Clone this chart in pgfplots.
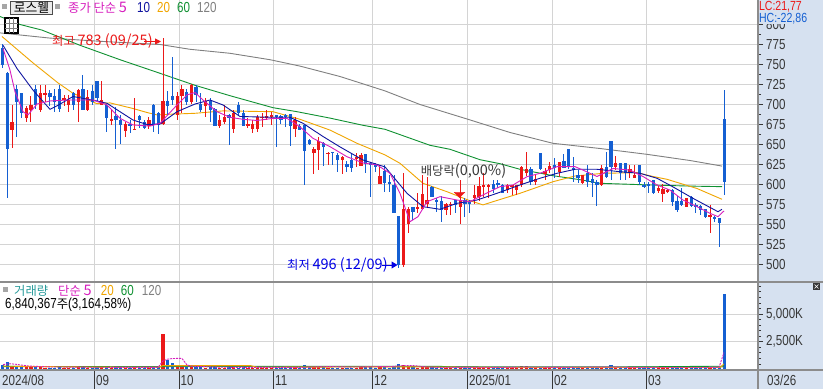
\documentclass[border=0pt]{standalone}
\usepackage{pgfplots}
\pgfplotsset{compat=1.18}
\usepackage{pgfplotstable}
\usetikzlibrary{arrows.meta}
\usepackage{fontspec}
\setmainfont{Liberation Sans}[FakeStretch=0.8]
\newfontfamily\krfont{Noto Sans CJK KR}
\newcommand{\lt}{\fontsize{14.5}{15}\selectfont}
\newcommand{\ls}{\fontsize{13.2}{13.5}\selectfont}
\newcommand{\kt}{\krfont\fontsize{12.3}{13}\selectfont}
\definecolor{cR}{RGB}{235,25,25}
\definecolor{cB}{RGB}{20,95,210}
\definecolor{cM}{RGB}{215,30,190}
\definecolor{cN}{RGB}{15,20,160}
\definecolor{cO}{RGB}{240,165,0}
\definecolor{cG}{RGB}{16,145,50}
\definecolor{cY}{RGB}{128,128,128}
\definecolor{cT}{RGB}{40,155,155}
\definecolor{panel}{RGB}{214,225,240}
\definecolor{gridc}{RGB}{212,212,212}
\definecolor{axc}{RGB}{140,140,140}
\definecolor{txt}{RGB}{55,55,55}

\pgfplotstableread{
k o c h l v
2 668 678 699 645 300
5 683 695 698 678 220
6 693 699 710 678 200
8 693 714 724 691 260
9 712 714 724 703 160
13 705 708 712 698 140
14 699 705 712 691 150
16 703 718 720 678 230
18 693 710 718 692 180
21 699 705 729 699 200
23 679 682 693 674 130
26 667 676 678 660 170
28 668 670 708 668 210
31 673 680 685 670 150
34 676 704 783 675 3195
37 687 711 716 680 380
38 710 719 724 689 300
40 703 724 726 701 280
43 698 704 708 684 180
46 673 680 687 670 150
47 678 684 699 676 170
49 669 690 693 664 220
52 673 675 683 670 120
53 669 675 681 664 130
54 669 685 687 666 180
55 683 685 689 672 110
56 683 685.5 693 680 120
57 684 687 691 674 130
62 669 680 684 659 200
66 640 645 647 613 330
67 643 654 660 618 280
69 638 640 641 624 150
72 631 634 635 613 170
75 632.5 634.5 639 622 130
76 623 637 639 623 200
80 601 610 624 601 220
85 499 569 614 497 420
86 551 569 572 539 300
88 570 572 589 564 160
89 569 588 612 568 250
90 575 580 610 572 200
94 568 576 577 562 140
95 574 576 578 562 120
97 572 580.5 606 551 180
100 582.6 586.75 599 576 170
101 585 598 610 580 230
102 597 599.3 614 585 190
103 597.5 599.5 601 582.6 130
107 593 599 600 589 140
108 597 599 599.5 587 120
109 593 599 600 587 130
110 599 622 623 597 280
111 614 620 640 610 300
113 603.5 606.75 612 599 150
115 613 617 620 605.5 140
116 618 623 628 614 160
118 616 627.6 628.4 609.7 190
123 601.3 611.75 612 600.5 170
127 599.25 621 624 598 250
130 622 627 635 618 180
133 614 619 624 607.6 150
134 608.4 611.75 624 607.6 140
139 592 596 599 589 130
140 588 595 600.5 578.4 160
141 591 593 593.8 588.8 110
145 572.2 582.6 583 572 150
150 558.8 561.75 574.25 538.8 200
}\upc

\pgfplotstableread{
k o c h l v
0 771 749 775 745 450
1 740 645 741 583 700
3 719 703 724 660 280
4 714 689 715 683 230
7 719 699 724 695 200
10 714 710 718 698 150
11 710 703 719 691 160
12 719 695 724 691 190
15 714 699 716 693 170
17 719 693 737 693 250
19 717 703 724 699 180
20 729 708 730 703 210
22 699 683 701 665 230
24 685 681 697 644 260
25 681 674 687 651 190
27 676 673 680 664 140
29 685 681 687 670 150
30 678 670 680 669 160
32 699 674 700 665 200
33 689 674 690 663 190
35 704 698 717 687 900
36 710 706 760 699 600
39 715 703 720 699 260
41 722 712 724 703 240
42 701 693 714 691 210
44 704 693 708 678 190
45 695 673 696 673 230
48 687 683 688 649 200
50 699 689 703 687 160
51 689 673 693 673 190
58 686.5 684.5 687 647 180
59 685 680 687 676 120
60 687 684 688 672 130
61 688 673 688 648 240
63 673 668 675 668 150
64 674 642 674 599 380
65 656 650 657 649 200
68 652 647 653 623 190
70 641 639 641 624 110
71 637 630 639 615 160
73 625.5 622 630 616 140
74 631 621 639 616 170
77 638 625 638 614 200
78 627 625 627 585 260
79 625.5 622 627 616 150
81 617 601.5 624 591 220
82 603.5 600.6 612 590 180
83 599 565 612 564 330
84 560 499 560 496 480
87 572 566 572 556 210
91 597 585 598 584 200
92 580.5 578.5 583 566 130
93 580 568 585 553 180
96 580 574 581 564 140
98 580.5 576 583 560 160
99 578.5 576.3 580.5 564 120
104 601 595 605.5 589 170
105 602 599 606 595 130
106 599 589 601 589 150
112 619 603 622 599 210
114 639 619 639.5 618 260
117 624 620 632.6 607.6 180
119 629 621 638 620.9 170
120 644.7 622.2 645 620 240
121 621 618 635 603 190
122 612 607.6 618 602 150
124 614 603.4 624 597 170
125 606.3 601.3 614 585 180
126 603.4 599.25 605.5 573.4 200
128 621.3 609.7 640 607.6 190
129 654 622 654.5 605.5 380
131 627 614 627.5 605.5 200
132 627 614 627.5 605.5 170
135 624 602.6 624.5 599 230
136 599.5 598 603.4 595 120
137 600 598 603.4 589 140
138 605.5 589 606 588 190
142 593 578.4 594 573 210
143 579.7 568 585.5 566 230
144 579.7 574.25 595 573 180
146 584.7 573.4 586 572 170
147 574.25 572.2 576.3 563.8 150
148 573 568 574.25 561.75 160
149 568.8 558.8 569 558.5 200
151 559 557 560.5 552.6 190
152 558.4 552.2 558.5 522 216
153 681.75 603.4 718 586.75 6840
}\dnc

\pgfplotsset{
  wick/.style={draw=none, mark=none, forget plot,
    error bars/.cd, y dir=both, y explicit, error mark=none,
    error bar style={draw=#1, line width=1pt}},
  body/.style={draw=none, mark=none, forget plot,
    error bars/.cd, y dir=both, y explicit, error mark=none,
    error bar style={draw=#1, line width=3.3pt}},
}

\begin{document}
\begin{tikzpicture}[x=1pt,y=1pt]
\path[use as bounding box] (0,0) rectangle (823,389);
\clip (0,0) rectangle (823,389);
\fill[white] (0,0) rectangle (823,389);
\fill[panel] (758,0) rectangle (823,389);
\fill[panel] (0,0) rectangle (823,19);

% ---------------- price panel ----------------
\begin{axis}[
  at={(0pt,107pt)}, anchor=south west, scale only axis,
  width=758pt, height=282pt,
  xmin=0, xmax=758, ymin=478.125, ymax=830.625,
  axis line style={draw=none},
  xtick={94.7,179.3,273.3,372.7,467.7,552.7,646.7}, xticklabels={},
  xtick style={draw=none},
  ytick={500,525,...,800}, minor y tick num=1,
  ytick pos=right, yticklabel pos=right,
  tick align=outside, major tick length=5pt, minor tick length=3pt,
  ytick style={draw=txt, line width=0.9pt},
  minor y tick style={draw=txt, line width=0.9pt},
  xmajorgrids, ymajorgrids, grid style={draw=gridc, line width=1pt},
  yticklabel style={font=\lt, text=txt, anchor=west, inner sep=0pt, xshift=3pt},
  /pgf/number format/assume math mode=true,
  /pgf/number format/1000 sep={},
]
\addplot[cY, line width=0.9pt, mark=none] coordinates {(0,789.5)(50,783)(100,779)(160,775)(190,769)(230,764)(270,756)(300,748)(340,735)(385,717)(420,700)(468,681.5)(510,665)(553,651.5)(600,645)(647,637.7)(690,630)(722,623)};
\addplot[cG, line width=0.9pt, mark=none] coordinates {(0,810)(20,800)(42,793)(80,774)(120,756)(160,739)(195,724)(230,711)(273,696)(297,691)(330,683)(363,674)(385,669)(430,649)(450,644)(480,631)(500,626)(520,619)(553,611)(580,606)(600,601.5)(650,599.4)(690,598)(722,597.3)};
\addplot[cO, line width=0.9pt, mark=none] coordinates {(2,785)(33,752)(58,727)(73,714)(97,701)(110,702)(133,695)(147,690)(157,687)(173,688)(195,689)(223,692)(273,691)(300,681.5)(330,668)(357,651.5)(385,637)(400,626.5)(423,601.5)(447,591)(468,580.6)(483,574.5)(493,578.5)(520,589)(553,603.5)(575,610.6)(603,614)(637,614.8)(653,610)(667,606.5)(697,595)(722,581.5)};

\addplot[wick=cR] table[x expr=2.7+4.716*\thisrow{k}, y expr=(\thisrow{h}+\thisrow{l})/2, y error expr=(\thisrow{h}-\thisrow{l})/2]{\upc};
\addplot[wick=cB] table[x expr=2.7+4.716*\thisrow{k}, y expr=(\thisrow{h}+\thisrow{l})/2, y error expr=(\thisrow{h}-\thisrow{l})/2]{\dnc};
\addplot[body=cR] table[x expr=2.7+4.716*\thisrow{k}, y expr=(\thisrow{o}+\thisrow{c})/2, y error expr={max(abs(\thisrow{c}-\thisrow{o})/2,0.8)}]{\upc};
\addplot[body=cB] table[x expr=2.7+4.716*\thisrow{k}, y expr=(\thisrow{o}+\thisrow{c})/2, y error expr={max(abs(\thisrow{c}-\thisrow{o})/2,0.8)}]{\dnc};

\addplot[cN, line width=0.9pt, mark=none] coordinates {(3,774)(17,745)(33,718)(50,694)(58,699)(73,710)(97,704.4)(107,701.5)(120,691)(133,680.6)(147,675)(160,675.6)(177,691)(195,700.6)(210,705.6)(223,699.4)(240,685)(273,684)(290,684)(303,676.5)(323,660)(340,647)(363,630.6)(385,622)(393,610)(407,589)(423,572.3)(440,569)(457,576.5)(477,580.6)(497,589)(520,599.4)(540,607.8)(557,614)(575,619)(597,619)(620,616)(640,614)(657,607.8)(673,597)(693,582.7)(718,566)(722,569)};
\addplot[cM, line width=0.9pt, mark=none] coordinates {(3,770)(10,743)(15,716)(23,691)(28,687)(37,700.6)(50,704.4)(67,705.6)(93,705.6)(107,699.4)(120,682.7)(133,674.4)(150,673)(160,676.5)(177,699.4)(187,712)(195,715)(203,705.6)(217,691)(230,684)(243,681.5)(257,680)(273,682.7)(287,682.7)(300,672)(313,657.7)(330,647.3)(347,634.7)(363,627)(377,624.4)(390,614)(400,589)(410,553.5)(418,559.8)(427,578.5)(440,584.8)(457,580.6)(470,578.5)(483,587)(500,597.3)(513,599.4)(527,609.8)(540,614)(557,622.3)(575,622.3)(583,618)(597,610)(613,620)(630,618)(643,610)(657,599.4)(670,593)(683,580.6)(697,572.3)(710,564)(718,559.8)(724,567)};

\addplot[only marks, mark=triangle*, mark size=6pt, mark options={rotate=180, yscale=0.6, fill=cR, draw=cR}] coordinates {(459.5,588)};
\end{axis}

% ---------------- volume panel ----------------
\begin{axis}[
  at={(0pt,19.5pt)}, anchor=south west, scale only axis,
  width=758pt, height=86.5pt,
  xmin=0, xmax=758, ymin=0, ymax=7807,
  axis line style={draw=none},
  xtick={94.7,179.3,273.3,372.7,467.7,552.7,646.7}, xticklabels={},
  xtick style={draw=none},
  ytick={2500,5000}, yticklabels={{2,500K},{5,000K}},
  minor ytick={500,1000,...,7500},
  ytick pos=right, yticklabel pos=right,
  tick align=outside, major tick length=5pt, minor tick length=3pt,
  ytick style={draw=txt, line width=0.9pt},
  minor y tick style={draw=txt, line width=0.9pt},
  xmajorgrids, ymajorgrids, grid style={draw=gridc, line width=1pt},
  yticklabel style={font=\lt, text=txt, anchor=west, inner sep=0pt, xshift=3pt},
]
\addplot[ycomb, draw=cR, line width=3.3pt, mark=none, forget plot] table[x expr=2.7+4.716*\thisrow{k}, y=v]{\upc};
\addplot[ycomb, draw=cB, line width=3.3pt, mark=none, forget plot] table[x expr=2.7+4.716*\thisrow{k}, y=v]{\dnc};
\addplot[cY, line width=0.9pt, mark=none] coordinates {(3,250)(400,260)(724,230)};
\addplot[cG, line width=0.9pt, mark=none] coordinates {(3,280)(160,240)(165,290)(440,290)(450,230)(600,210)(724,300)};
\addplot[cO, line width=0.9pt, mark=none] coordinates {(3,300)(100,210)(158,200)(163,350)(250,360)(257,200)(400,240)(420,230)(500,180)(720,180)(724,510)};
\addplot[cM, line width=0.9pt, dashed, dash pattern=on 2pt off 1pt, mark=none] coordinates {(3,450)(10,520)(15,480)(28,320)(50,230)(100,200)(158,190)(163,780)(168,940)(173,990)(177,1000)(182,1000)(187,400)(192,300)(220,200)(300,190)(315,230)(330,260)(350,220)(392,270)(398,320)(403,350)(408,360)(415,340)(425,240)(440,180)(500,180)(525,210)(560,190)(610,220)(640,180)(700,180)(719,190)(724,1530)};
\end{axis}

% ---------------- frame lines ----------------
\draw[axc, line width=1.2pt] (0,107) -- (823,107);
\draw[axc, line width=1.2pt] (0,19) -- (823,19);
\draw[axc, line width=1.2pt] (758,0) -- (758,389);
\foreach \xx in {94.7,179.3,273.3,372.7,467.7,552.7,646.7} \draw[txt, line width=0.9pt] (\xx,0) -- (\xx,18);
\fill[txt] (813,99) rectangle (820,106);
\draw[white, line width=0.6pt] (814.5,100.5) -- (818.5,104.5) (814.5,104.5) -- (818.5,100.5);

% ---------------- date labels ----------------
\foreach \xx/\tt in {2/{2024/08}, 96/{09}, 180.5/{10}, 275/{11}, 374/{12}, 469/{2025/01}, 554/{02}, 648/{03}, 767/{03/26}}
  \node[anchor=west, inner sep=0pt, text=txt, font=\lt] at (\xx,8.5) {\tt};

% ---------------- price legend ----------------
\fill[gray!70] (2,380) rectangle (6.5,385);
\draw[gray!60!black, fill=gray!15, line width=0.8pt] (10.7,374.7) rectangle (52.3,387.3);
\node[inner sep=0pt, text=black] at (31.5,381) {\krfont\fontsize{12.8}{13}\selectfont 로스웰};
\fill[gray!70] (55,380) rectangle (59.5,385);
\node[anchor=west, inner sep=0pt, text=cM] at (68,381.3) {\kt 종가 단순 {\lt 5}};
\node[anchor=west, inner sep=0pt, text=cN, font=\lt] at (137,381.3) {10};
\node[anchor=west, inner sep=0pt, text=cO, font=\lt] at (157,381.3) {20};
\node[anchor=west, inner sep=0pt, text=cG, font=\lt] at (177,381.3) {60};
\node[anchor=west, inner sep=0pt, text=cY, font=\lt] at (197,381.3) {120};
\draw[black, line width=1.3pt, fill=white] (5,356) rectangle (18,371);
\draw[gray, line width=0.6pt] (5,361) -- (18,361) (5,366) -- (18,366) (9.3,356) -- (9.3,371) (13.7,356) -- (13.7,371);

\node[anchor=west, inner sep=0.3pt, fill=panel, text=cR, font=\ls] at (758.5,382.6) {LC:21,77};
\node[anchor=west, inner sep=0.3pt, fill=panel, text=cB, font=\ls] at (758.5,370.6) {HC:-22,86};

% ---------------- annotations ----------------
\node[anchor=west, inner sep=0pt, text=cR] at (52,348) {\kt 최고 {\lt 783 (09/25)}};
\draw[cR, line width=1pt, -{Triangle[length=6pt,width=6pt]}] (144,347.5) -- (161,347.5);
\node[anchor=west, inner sep=0pt, text=blue!90!black] at (287,124) {\kt 최저 {\lt 496 (12/09)}};
\draw[blue!90!black, line width=1pt, -{Triangle[length=6pt,width=7pt]}] (382,124) -- (397.5,124);
\node[anchor=west, inner sep=0pt, text=txt] at (420.7,218) {\kt 배당락{\lt(0,00\%)}};

% ---------------- volume legend ----------------
\fill[gray!70] (3.3,97) rectangle (7.5,102);
\node[anchor=west, inner sep=0pt, text=cT] at (14,98.5) {\kt 거래량};
\node[anchor=west, inner sep=0pt, text=cM] at (58,98.5) {\kt 단순 {\lt 5}};
\node[anchor=west, inner sep=0pt, text=cO, font=\lt] at (100.7,98.5) {20};
\node[anchor=west, inner sep=0pt, text=cG, font=\lt] at (120.7,98.5) {60};
\node[anchor=west, inner sep=0pt, text=cY, font=\lt] at (141.7,98.5) {120};
\node[anchor=west, inner sep=0pt, text=black] at (5,84.5) {\lt 6,840,367{\kt 주}(3,164,58\%)};
\end{tikzpicture}
\end{document}
